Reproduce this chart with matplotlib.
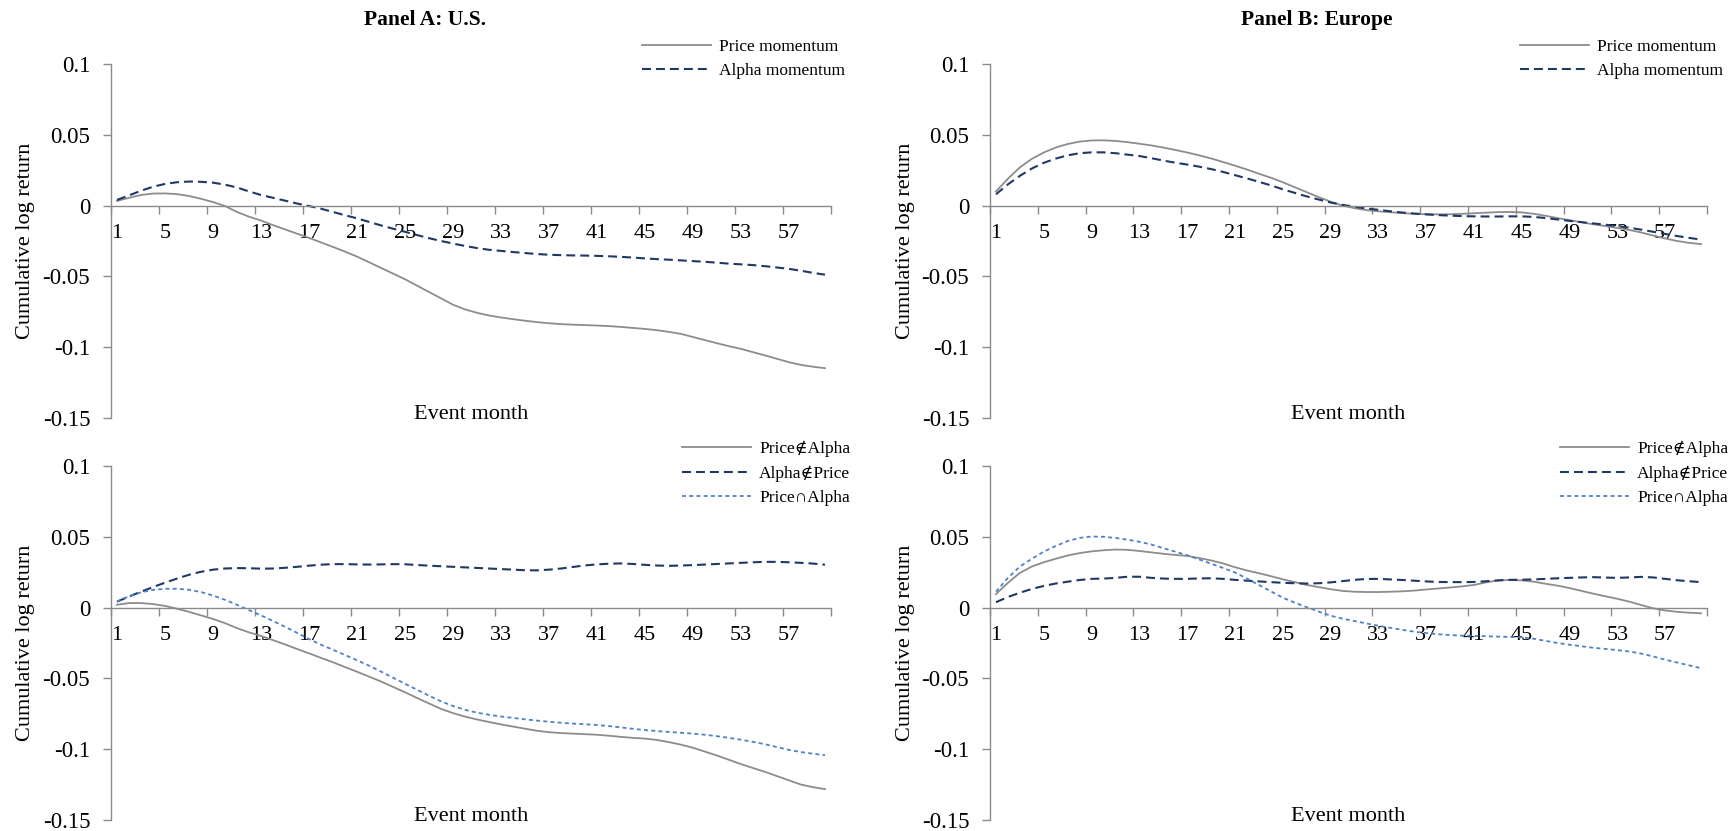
import matplotlib
matplotlib.use("Agg")
import matplotlib.pyplot as plt
from matplotlib.ticker import FixedLocator, FuncFormatter
import numpy as np

plt.rcParams['font.family'] = ['Liberation Serif', 'DejaVu Serif']

# ---- data ----
months = np.arange(1, 61)

us_price = [0.0033, 0.0055, 0.0075, 0.0085, 0.0086, 0.0081, 0.0068, 0.0048, 0.0025, -0.0003,
            -0.0045, -0.0078, -0.0106, -0.0138, -0.0168, -0.0198, -0.0228, -0.0260, -0.0292, -0.0325,
            -0.0360, -0.0400, -0.0440, -0.0480, -0.0520, -0.0565, -0.0610, -0.0655, -0.0700, -0.0733,
            -0.0757, -0.0776, -0.0790, -0.0802, -0.0813, -0.0823, -0.0831, -0.0837, -0.0841, -0.0844,
            -0.0847, -0.0851, -0.0857, -0.0864, -0.0871, -0.0880, -0.0892, -0.0906, -0.0928, -0.0950,
            -0.0972, -0.0993, -0.1012, -0.1035, -0.1058, -0.1082, -0.1106, -0.1125, -0.1138, -0.1148]
us_alpha = [0.0040, 0.0072, 0.0105, 0.0133, 0.0153, 0.0165, 0.0170, 0.0168, 0.0162, 0.0148,
            0.0128, 0.0100, 0.0075, 0.0055, 0.0035, 0.0015, -0.0003, -0.0022, -0.0045, -0.0068,
            -0.0090, -0.0115, -0.0140, -0.0163, -0.0185, -0.0208, -0.0230, -0.0250, -0.0268, -0.0285,
            -0.0300, -0.0312, -0.0320, -0.0328, -0.0335, -0.0342, -0.0347, -0.0350, -0.0352, -0.0353,
            -0.0355, -0.0358, -0.0362, -0.0367, -0.0373, -0.0378, -0.0382, -0.0387, -0.0392, -0.0397,
            -0.0403, -0.0410, -0.0415, -0.0420, -0.0428, -0.0437, -0.0447, -0.0460, -0.0475, -0.0488]

eu_price = [0.0100, 0.0190, 0.0270, 0.0330, 0.0375, 0.0410, 0.0435, 0.0452, 0.0460, 0.0461,
            0.0457, 0.0448, 0.0437, 0.0425, 0.0410, 0.0393, 0.0375, 0.0355, 0.0333, 0.0308,
            0.0282, 0.0255, 0.0225, 0.0197, 0.0165, 0.0130, 0.0095, 0.0060, 0.0028, 0.0000,
            -0.0018, -0.0032, -0.0040, -0.0047, -0.0053, -0.0058, -0.0061, -0.0062, -0.0061, -0.0058,
            -0.0054, -0.0050, -0.0046, -0.0045, -0.0048, -0.0058, -0.0072, -0.0088, -0.0103, -0.0118,
            -0.0132, -0.0145, -0.0158, -0.0172, -0.0190, -0.0212, -0.0232, -0.0250, -0.0263, -0.0272]
eu_alpha = [0.0080, 0.0150, 0.0210, 0.0262, 0.0302, 0.0332, 0.0355, 0.0370, 0.0376, 0.0376,
            0.0370, 0.0360, 0.0350, 0.0335, 0.0318, 0.0303, 0.0290, 0.0275, 0.0258, 0.0238,
            0.0215, 0.0192, 0.0168, 0.0143, 0.0115, 0.0090, 0.0065, 0.0043, 0.0022, 0.0005,
            -0.0008, -0.0020, -0.0030, -0.0040, -0.0049, -0.0056, -0.0062, -0.0067, -0.0071, -0.0074,
            -0.0076, -0.0077, -0.0077, -0.0076, -0.0076, -0.0080, -0.0088, -0.0098, -0.0108, -0.0117,
            -0.0126, -0.0135, -0.0145, -0.0156, -0.0170, -0.0185, -0.0200, -0.0215, -0.0228, -0.0240]

us_p_not_a = [0.0020, 0.0032, 0.0032, 0.0025, 0.0012, -0.0008, -0.0030, -0.0055, -0.0080, -0.0110,
              -0.0145, -0.0175, -0.0200, -0.0230, -0.0260, -0.0292, -0.0323, -0.0355, -0.0386, -0.0420,
              -0.0453, -0.0487, -0.0522, -0.0560, -0.0598, -0.0638, -0.0677, -0.0715, -0.0745, -0.0770,
              -0.0790, -0.0808, -0.0825, -0.0840, -0.0855, -0.0870, -0.0880, -0.0886, -0.0890, -0.0894,
              -0.0898, -0.0905, -0.0913, -0.0920, -0.0925, -0.0935, -0.0950, -0.0968, -0.0990, -0.1017,
              -0.1045, -0.1075, -0.1105, -0.1133, -0.1160, -0.1190, -0.1220, -0.1250, -0.1268, -0.1282]
us_a_not_p = [0.0042, 0.0078, 0.0112, 0.0145, 0.0176, 0.0205, 0.0232, 0.0253, 0.0268, 0.0276,
              0.0279, 0.0278, 0.0275, 0.0276, 0.0281, 0.0288, 0.0296, 0.0303, 0.0307, 0.0307,
              0.0305, 0.0304, 0.0305, 0.0307, 0.0306, 0.0301, 0.0296, 0.0292, 0.0288, 0.0284,
              0.0280, 0.0276, 0.0272, 0.0268, 0.0264, 0.0263, 0.0268, 0.0276, 0.0287, 0.0298,
              0.0305, 0.0310, 0.0312, 0.0308, 0.0302, 0.0297, 0.0295, 0.0297, 0.0300, 0.0304,
              0.0308, 0.0312, 0.0316, 0.0320, 0.0323, 0.0323, 0.0320, 0.0316, 0.0311, 0.0303]
us_p_and_a = [0.0042, 0.0080, 0.0108, 0.0125, 0.0133, 0.0133, 0.0126, 0.0110, 0.0085, 0.0055,
              0.0020, -0.0018, -0.0055, -0.0095, -0.0135, -0.0178, -0.0222, -0.0262, -0.0298, -0.0335,
              -0.0372, -0.0410, -0.0452, -0.0495, -0.0538, -0.0580, -0.0622, -0.0662, -0.0695, -0.0722,
              -0.0742, -0.0757, -0.0769, -0.0779, -0.0789, -0.0798, -0.0806, -0.0813, -0.0819, -0.0824,
              -0.0829, -0.0837, -0.0846, -0.0856, -0.0865, -0.0872, -0.0878, -0.0884, -0.0890, -0.0898,
              -0.0908, -0.0920, -0.0933, -0.0948, -0.0965, -0.0985, -0.1005, -0.1020, -0.1032, -0.1042]

eu_p_not_a = [0.0095, 0.0175, 0.0245, 0.0290, 0.0320, 0.0345, 0.0368, 0.0385, 0.0397, 0.0405,
              0.0410, 0.0408, 0.0400, 0.0390, 0.0380, 0.0372, 0.0365, 0.0350, 0.0333, 0.0312,
              0.0285, 0.0262, 0.0243, 0.0222, 0.0200, 0.0180, 0.0160, 0.0145, 0.0130, 0.0118,
              0.0112, 0.0110, 0.0110, 0.0112, 0.0115, 0.0120, 0.0128, 0.0135, 0.0142, 0.0150,
              0.0160, 0.0178, 0.0192, 0.0195, 0.0192, 0.0183, 0.0168, 0.0155, 0.0138, 0.0118,
              0.0098, 0.0080, 0.0062, 0.0042, 0.0018, -0.0005, -0.0020, -0.0030, -0.0036, -0.0040]
eu_a_not_p = [0.0038, 0.0075, 0.0105, 0.0132, 0.0153, 0.0170, 0.0183, 0.0195, 0.0203, 0.0205,
              0.0210, 0.0218, 0.0218, 0.0210, 0.0205, 0.0203, 0.0203, 0.0206, 0.0207, 0.0203,
              0.0196, 0.0190, 0.0185, 0.0180, 0.0175, 0.0172, 0.0170, 0.0172, 0.0178, 0.0187,
              0.0196, 0.0202, 0.0203, 0.0199, 0.0195, 0.0190, 0.0185, 0.0181, 0.0180, 0.0180,
              0.0181, 0.0186, 0.0192, 0.0196, 0.0197, 0.0199, 0.0203, 0.0207, 0.0210, 0.0213,
              0.0215, 0.0212, 0.0210, 0.0213, 0.0217, 0.0213, 0.0203, 0.0193, 0.0186, 0.0180]
eu_p_and_a = [0.0113, 0.0210, 0.0290, 0.0345, 0.0395, 0.0435, 0.0470, 0.0492, 0.0502, 0.0500,
              0.0492, 0.0480, 0.0465, 0.0445, 0.0420, 0.0395, 0.0370, 0.0340, 0.0310, 0.0280,
              0.0248, 0.0205, 0.0160, 0.0115, 0.0070, 0.0035, 0.0003, -0.0028, -0.0057, -0.0078,
              -0.0095, -0.0112, -0.0128, -0.0143, -0.0157, -0.0170, -0.0180, -0.0188, -0.0194, -0.0198,
              -0.0200, -0.0202, -0.0205, -0.0207, -0.0210, -0.0220, -0.0235, -0.0250, -0.0262, -0.0273,
              -0.0284, -0.0292, -0.0300, -0.0310, -0.0325, -0.0345, -0.0368, -0.0388, -0.0408, -0.0428]

# ---- styles ----
GRAY = '#8c8c8c'
NAVY = '#1f3864'
LBLUE = '#4f81c9'
AXC = '#8a8a8a'
STY = {
    'solid': dict(color=GRAY, lw=1.3, ls='-'),
    'dash': dict(color=NAVY, lw=1.5, ls=(0, (4.3, 2.4))),
    'dot': dict(color=LBLUE, lw=1.3, ls=(0, (2.2, 1.8))),
}

W, H = 1733, 831
fig = plt.figure(figsize=(W / 100, H / 100), dpi=100)


def px_ax(x0, x1, y0, y1):
    return fig.add_axes([x0 / W, 1 - y1 / H, (x1 - x0) / W, (y1 - y0) / H])


def style_axis(ax):
    ax.set_xlim(0.5, 60.5)
    ax.set_ylim(-0.15, 0.1)
    for s in ['top', 'right']:
        ax.spines[s].set_visible(False)
    ax.spines['bottom'].set_position(('data', 0))
    for s in ['left', 'bottom']:
        ax.spines[s].set_color(AXC)
        ax.spines[s].set_linewidth(1.0)
    # labels at month 1, 5, ... ; tick marks between categories
    ax.xaxis.set_major_locator(FixedLocator(np.arange(1, 61, 4)))
    ax.xaxis.set_minor_locator(FixedLocator(np.arange(0.5, 61, 4)))
    ax.tick_params(axis='x', which='major', length=0, pad=13, labelsize=16)
    ax.tick_params(axis='x', which='minor', length=6, width=1.0, color=AXC, direction='out')
    ax.yaxis.set_major_locator(FixedLocator([-0.15, -0.1, -0.05, 0, 0.05, 0.1]))
    ax.yaxis.set_major_formatter(FuncFormatter(lambda v, p: '%g' % round(v, 3)))
    ax.tick_params(axis='y', length=6, width=1.0, color=AXC, pad=9, labelsize=16.5)
    ax.set_ylabel('Cumulative log return', fontsize=16)
    ax.yaxis.set_label_coords(-0.105, 0.5)
    ax.text(0.5, 0.01, 'Event month', transform=ax.transAxes, ha='center', va='center', fontsize=16)


panels = [
    (px_ax(111, 831, 64, 418), [us_price, us_alpha], ['Price momentum', 'Alpha momentum'], (642, 39)),
    (px_ax(990, 1707, 64, 418), [eu_price, eu_alpha], ['Price momentum', 'Alpha momentum'], (1520, 39)),
    (px_ax(111, 831, 466, 820), [us_p_not_a, us_a_not_p, us_p_and_a],
     ['Price\u2209Alpha', 'Alpha\u2209Price', 'Price\u2229Alpha'], (682, 441)),
    (px_ax(990, 1707, 466, 820), [eu_p_not_a, eu_a_not_p, eu_p_and_a],
     ['Price\u2209Alpha', 'Alpha\u2209Price', 'Price\u2229Alpha'], (1560, 441)),
]

for ax, series, names, (lx, ly) in panels:
    style_axis(ax)
    for vals, name, key in zip(series, names, ['solid', 'dash', 'dot']):
        ax.plot(months, vals, label=name, clip_on=False, **STY[key])
    fig.legend(handles=ax.get_lines(), loc='upper left', bbox_to_anchor=(lx / W, 1 - ly / H),
               frameon=False, fontsize=12.5, handlelength=4.0, handletextpad=0.45,
               labelspacing=0.45, borderpad=0, borderaxespad=0)

fig.text(425 / W, 1 - 20 / H, 'Panel A: U.S.', ha='center', va='center', fontsize=15.5, fontweight='bold')
fig.text(1317 / W, 1 - 20 / H, 'Panel B: Europe', ha='center', va='center', fontsize=15.5, fontweight='bold')

fig.savefig('out.png', dpi=100)
